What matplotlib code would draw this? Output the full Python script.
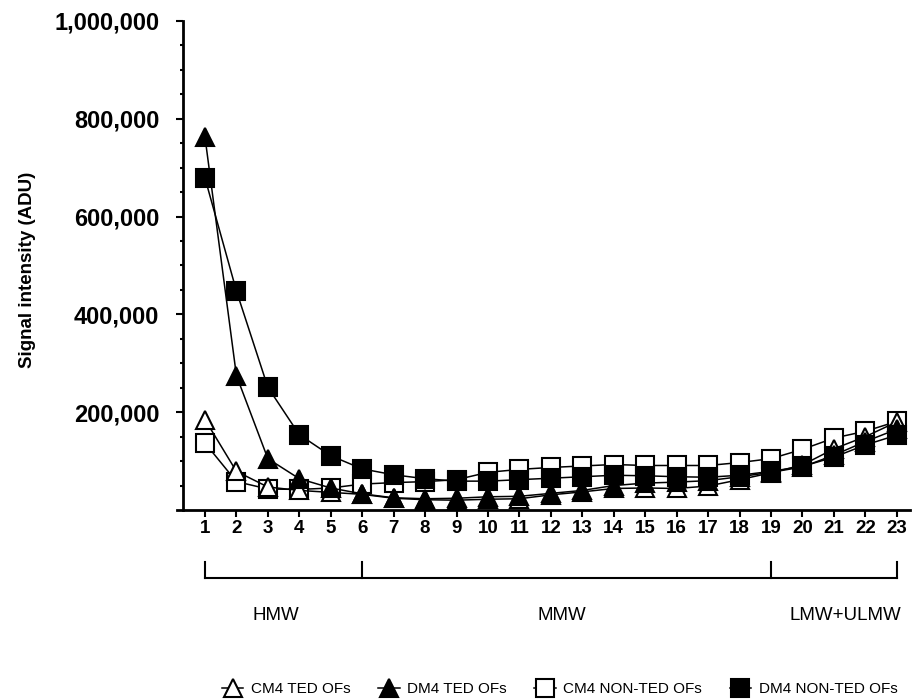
import matplotlib
matplotlib.use('Agg')
from matplotlib import pyplot as plt
from matplotlib.ticker import FixedLocator, FuncFormatter
import matplotlib.transforms as mtransforms

plt.rcParams['font.family'] = ['Liberation Sans', 'DejaVu Sans']

fractions = list(range(1, 24))
cm4_ted = [185, 79, 47, 40, 36, 32, 24, 21, 20, 22, 23, 31, 37, 44, 45, 44, 49, 62, 76, 92, 125, 150, 180]
dm4_ted = [763, 275, 105, 64, 45, 33, 25, 23, 24, 27, 28, 34, 40, 50, 55, 57, 60, 68, 77, 88, 112, 140, 165]
cm4_non_ted = [137, 58, 43, 42, 45, 53, 56, 58, 62, 77, 83, 87, 90, 93, 91, 91, 91, 97, 105, 124, 147, 161, 181]
dm4_non_ted = [679, 448, 251, 154, 111, 84, 72, 64, 59, 59, 62, 65, 68, 71, 70, 68, 67, 71, 79, 89, 108, 133, 153]

groups = ['HMW', 'MMW', 'LMW+ULMW']
group_edges = [1, 6, 19, 23]
group_label_x = [3.27, 12.35, 21.37]

fig = plt.figure(figsize=(9.16, 6.99), dpi=100)
ax = fig.add_axes([0.1932, 0.2704, 0.8002, 0.6996])

series = [
    ('CM4 TED OFs', cm4_ted, '^', 'white', 3),
    ('DM4 TED OFs', dm4_ted, '^', 'black', 4),
    ('CM4 NON-TED OFs', cm4_non_ted, 's', 'white', 2),
    ('DM4 NON-TED OFs', dm4_non_ted, 's', 'black', 5),
]
handles = []
for label, vals, mk, fc, z in series:
    h, = ax.plot(fractions, [v * 1000 for v in vals], color='black', lw=1.1,
                 marker=mk, markersize=12.5, markerfacecolor=fc,
                 markeredgecolor='black', markeredgewidth=1.5, zorder=z, label=label)
    handles.append(h)

ax.set_xlim(0.11, 23.42)
ax.set_ylim(0, 1000000)
for s in ['top', 'right']:
    ax.spines[s].set_visible(False)
ax.spines['left'].set_position(('data', 0.30))
ax.spines['left'].set_linewidth(2)
ax.spines['bottom'].set_linewidth(2)

ax.set_xticks(fractions)
ax.set_xticklabels([str(f) for f in fractions], fontsize=13.5, fontweight='bold')
ax.yaxis.set_major_locator(FixedLocator([200000, 400000, 600000, 800000, 1000000]))
ax.yaxis.set_minor_locator(FixedLocator(list(range(50000, 1000000, 50000))))
ax.yaxis.set_major_formatter(FuncFormatter(lambda v, p: f'{int(v):,}'))
for t in ax.get_yticklabels():
    t.set_fontsize(17)
    t.set_fontweight('bold')
ax.tick_params(axis='x', direction='out', length=5, width=1.5, pad=2.5)
ax.tick_params(axis='y', which='major', direction='out', length=5, width=1.5, pad=12)
ax.tick_params(axis='y', which='minor', direction='out', length=2.5, width=1.5)

ax.set_ylabel('Signal intensity (ADU)', fontsize=13.5, fontweight='bold')
ax.yaxis.set_label_coords(-0.192, 0.49)

# fraction group brackets below the axis
trans = mtransforms.blended_transform_factory(ax.transData, ax.transAxes)
ax.plot([group_edges[0], group_edges[-1]], [-0.139, -0.139], color='black', lw=1.5,
        transform=trans, clip_on=False)
for e in group_edges:
    ax.plot([e, e], [-0.139, -0.106], color='black', lw=1.5, transform=trans, clip_on=False)
for g, gx in zip(groups, group_label_x):
    ax.text(gx, -0.215, g, transform=trans, ha='center', va='center', fontsize=13.5)

fig.legend(handles, [s[0] for s in series], ncol=4, loc='center',
           bbox_to_anchor=(0.611, 0.0143), frameon=False, fontsize=11,
           handlelength=1.4, handletextpad=0.5, columnspacing=1.8)

fig.savefig('out.png', dpi=100)
